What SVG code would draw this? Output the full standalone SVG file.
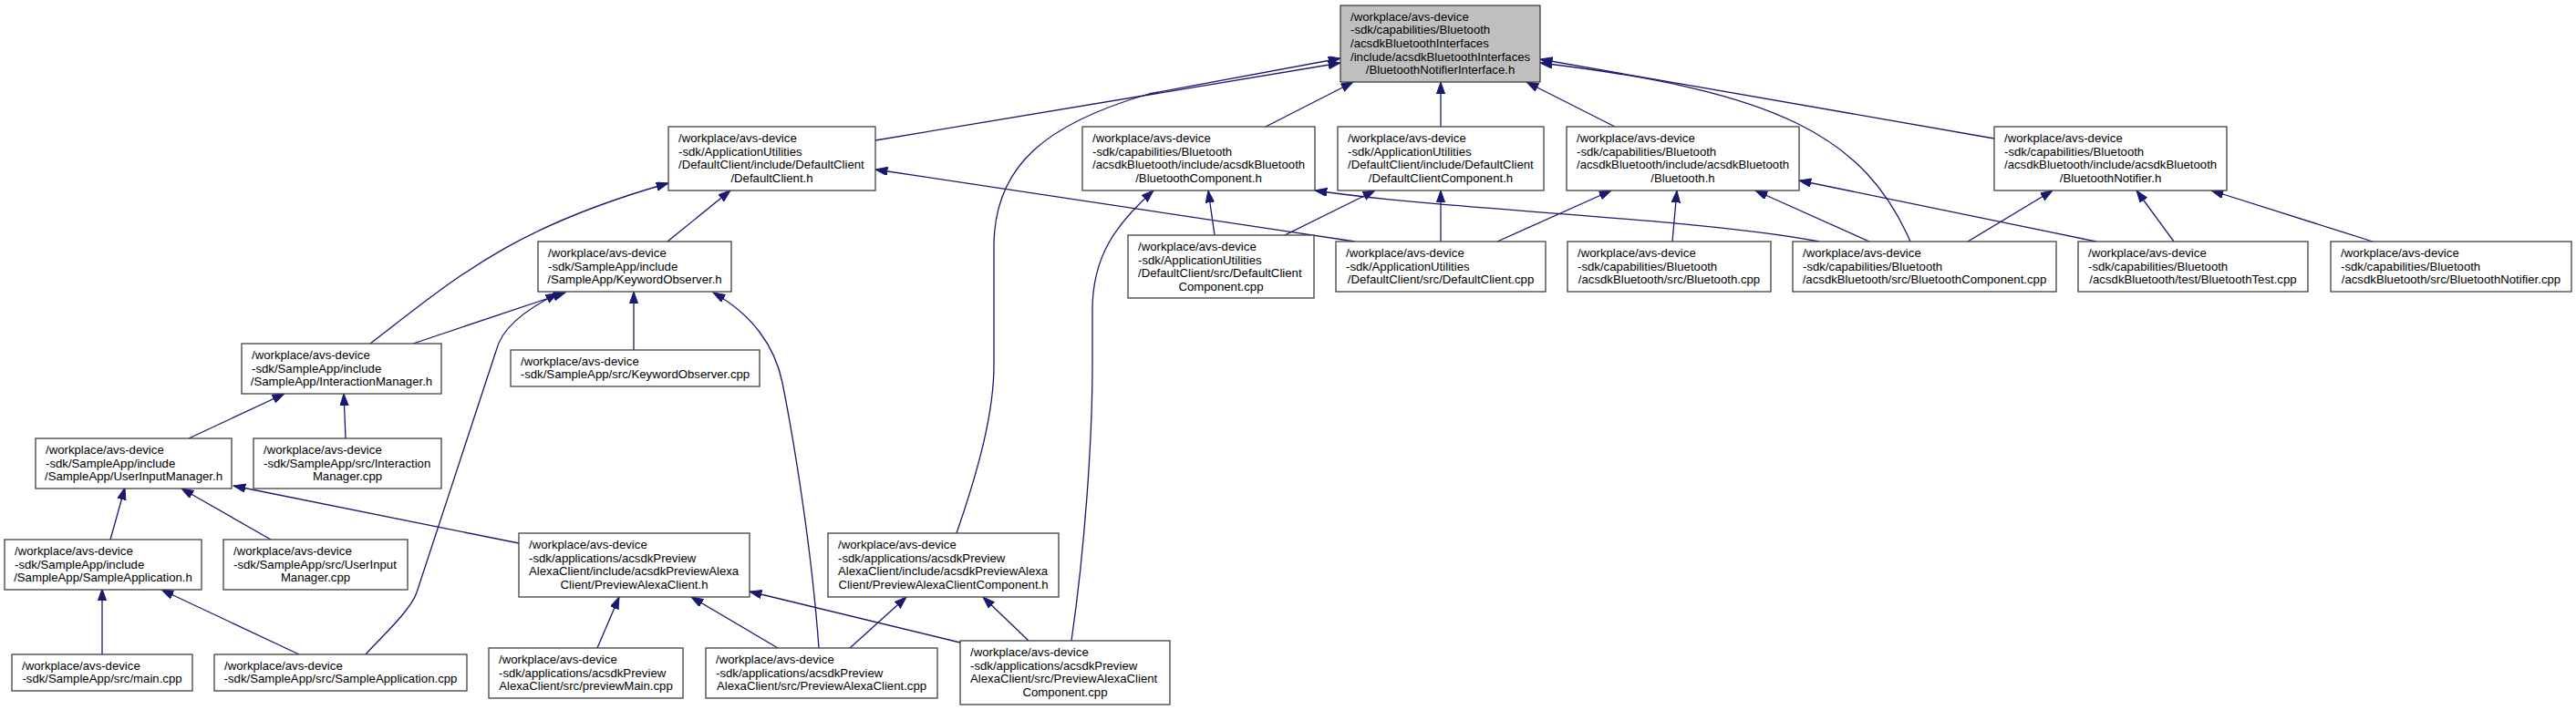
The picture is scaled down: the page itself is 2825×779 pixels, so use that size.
<svg xmlns="http://www.w3.org/2000/svg" width="2825" height="779" viewBox="0 0 2825 779">
<style>
rect.b{fill:#ffffff;stroke:#404040;stroke-width:1.3}
rect.r{fill:#bfbfbf;stroke:#404040;stroke-width:1.3}
text{font-family:"Liberation Sans",Arial,Helvetica,sans-serif;font-size:13.2px;fill:#000}
text.m{text-anchor:middle}
#edges path{fill:none;stroke:#191970;stroke-width:1.3;marker-end:url(#ah)}
</style>
<defs>
<marker id="ah" markerUnits="userSpaceOnUse" markerWidth="15" markerHeight="11" refX="13.3" refY="4.7" orient="auto">
<path d="M0,0 L13.3,4.7 L0,9.4 z" fill="#191970" stroke="#191970" stroke-width="1"/>
</marker>
</defs>
<rect width="2825" height="779" fill="#ffffff"/>
<g id="edges">
<path d="M960,154 L1470,69"/>
<path d="M1049,585 C1075,510 1090,450 1090,400 L1090,270 C1090,180 1150,135 1260,103 L1470,64"/>
<path d="M1388,139 L1484,90"/>
<path d="M1580,139 L1580,90"/>
<path d="M1771,139 L1674,90"/>
<path d="M2095,265 C2045,150 1950,100 1689,69"/>
<path d="M2187,152 L1689,65"/>
<path d="M732,265 L801,209"/>
<path d="M406,377 C500,305 560,250 733,201"/>
<path d="M1486,265 L960,186"/>
<path d="M1332,258 L1325,209"/>
<path d="M1175,703 C1190,600 1198,480 1198,400 L1198,340 C1198,280 1225,245 1265,209"/>
<path d="M1995,265 C1850,238 1600,232 1442,209"/>
<path d="M1409,258 L1508,209"/>
<path d="M1580,265 L1580,209"/>
<path d="M1642,265 L1767,209"/>
<path d="M1834,265 L1839,209"/>
<path d="M2050,265 L1925,209"/>
<path d="M2299,265 L1973,198"/>
<path d="M2158,265 L2251,209"/>
<path d="M2384,265 L2343,209"/>
<path d="M2602,265 L2425,209"/>
<path d="M453,377 L620,321"/>
<path d="M401,718 C420,697 450,670 457,650 L544,385 C550,360 575,340 612,322"/>
<path d="M695,384 L695,320"/>
<path d="M898,711 C890,600 870,480 858,420 C850,380 825,345 782,321"/>
<path d="M207,481 L312,432"/>
<path d="M379,481 L377,432"/>
<path d="M121,592 L137,535"/>
<path d="M297,592 L199,536"/>
<path d="M569,596 L256,533"/>
<path d="M112,718 L112,646"/>
<path d="M328,718 L177,647"/>
<path d="M655,711 L679,655"/>
<path d="M853,711 L758,655"/>
<path d="M1053,705 L822,649"/>
<path d="M932,711 L994,655"/>
<path d="M1128,703 L1078,655"/>
</g>
<g id="n0"><rect class="r" x="1470" y="6" width="219" height="84"/>
<text x="1481" y="22.6">/workplace/avs-device</text><text x="1481" y="37.3">-sdk/capabilities/Bluetooth</text><text x="1481" y="52">/acsdkBluetoothInterfaces</text><text x="1481" y="66.6">/include/acsdkBluetoothInterfaces</text><text class="m" x="1579.5" y="81.3">/BluetoothNotifierInterface.h</text></g>
<g id="n1"><rect class="b" x="733" y="139" width="227" height="70"/>
<text x="744" y="156">/workplace/avs-device</text><text x="744" y="170.7">-sdk/ApplicationUtilities</text><text x="744" y="185.3">/DefaultClient/include/DefaultClient</text><text class="m" x="846.5" y="200">/DefaultClient.h</text></g>
<g id="n2"><rect class="b" x="1187" y="139" width="255" height="70"/>
<text x="1198" y="156">/workplace/avs-device</text><text x="1198" y="170.7">-sdk/capabilities/Bluetooth</text><text x="1198" y="185.3">/acsdkBluetooth/include/acsdkBluetooth</text><text class="m" x="1314.5" y="200">/BluetoothComponent.h</text></g>
<g id="n3"><rect class="b" x="1467" y="139" width="226" height="70"/>
<text x="1478" y="156">/workplace/avs-device</text><text x="1478" y="170.7">-sdk/ApplicationUtilities</text><text x="1478" y="185.3">/DefaultClient/include/DefaultClient</text><text class="m" x="1580" y="200">/DefaultClientComponent.h</text></g>
<g id="n4"><rect class="b" x="1718" y="139" width="255" height="70"/>
<text x="1729" y="156">/workplace/avs-device</text><text x="1729" y="170.7">-sdk/capabilities/Bluetooth</text><text x="1729" y="185.3">/acsdkBluetooth/include/acsdkBluetooth</text><text class="m" x="1845.5" y="200">/Bluetooth.h</text></g>
<g id="n5"><rect class="b" x="2187" y="139" width="255" height="70"/>
<text x="2198" y="156">/workplace/avs-device</text><text x="2198" y="170.7">-sdk/capabilities/Bluetooth</text><text x="2198" y="185.3">/acsdkBluetooth/include/acsdkBluetooth</text><text class="m" x="2314.5" y="200">/BluetoothNotifier.h</text></g>
<g id="n6"><rect class="b" x="590" y="265" width="212" height="55"/>
<text x="601" y="281.8">/workplace/avs-device</text><text x="601" y="296.5">-sdk/SampleApp/include</text><text class="m" x="696" y="311.1">/SampleApp/KeywordObserver.h</text></g>
<g id="n7"><rect class="b" x="1237" y="258" width="204" height="69"/>
<text x="1248" y="275">/workplace/avs-device</text><text x="1248" y="289.7">-sdk/ApplicationUtilities</text><text x="1248" y="304.3">/DefaultClient/src/DefaultClient</text><text class="m" x="1339" y="319">Component.cpp</text></g>
<g id="n8"><rect class="b" x="1465" y="265" width="230" height="55"/>
<text x="1476" y="281.8">/workplace/avs-device</text><text x="1476" y="296.5">-sdk/ApplicationUtilities</text><text class="m" x="1580" y="311.1">/DefaultClient/src/DefaultClient.cpp</text></g>
<g id="n9"><rect class="b" x="1719" y="265" width="223" height="55"/>
<text x="1730" y="281.8">/workplace/avs-device</text><text x="1730" y="296.5">-sdk/capabilities/Bluetooth</text><text class="m" x="1830.5" y="311.1">/acsdkBluetooth/src/Bluetooth.cpp</text></g>
<g id="n10"><rect class="b" x="1966" y="265" width="289" height="55"/>
<text x="1977" y="281.8">/workplace/avs-device</text><text x="1977" y="296.5">-sdk/capabilities/Bluetooth</text><text class="m" x="2110.5" y="311.1">/acsdkBluetooth/src/BluetoothComponent.cpp</text></g>
<g id="n11"><rect class="b" x="2279" y="265" width="252" height="55"/>
<text x="2290" y="281.8">/workplace/avs-device</text><text x="2290" y="296.5">-sdk/capabilities/Bluetooth</text><text class="m" x="2405" y="311.1">/acsdkBluetooth/test/BluetoothTest.cpp</text></g>
<g id="n12"><rect class="b" x="2556" y="265" width="264" height="55"/>
<text x="2567" y="281.8">/workplace/avs-device</text><text x="2567" y="296.5">-sdk/capabilities/Bluetooth</text><text class="m" x="2688" y="311.1">/acsdkBluetooth/src/BluetoothNotifier.cpp</text></g>
<g id="n13"><rect class="b" x="265" y="377" width="219" height="55"/>
<text x="276" y="393.8">/workplace/avs-device</text><text x="276" y="408.5">-sdk/SampleApp/include</text><text class="m" x="374.5" y="423.1">/SampleApp/InteractionManager.h</text></g>
<g id="n14"><rect class="b" x="560" y="384" width="273" height="40"/>
<text x="571" y="400.6">/workplace/avs-device</text><text class="m" x="696.5" y="415.3">-sdk/SampleApp/src/KeywordObserver.cpp</text></g>
<g id="n15"><rect class="b" x="39" y="481" width="215" height="55"/>
<text x="50" y="497.8">/workplace/avs-device</text><text x="50" y="512.5">-sdk/SampleApp/include</text><text class="m" x="146.5" y="527.1">/SampleApp/UserInputManager.h</text></g>
<g id="n16"><rect class="b" x="278" y="481" width="206" height="55"/>
<text x="289" y="497.8">/workplace/avs-device</text><text x="289" y="512.5">-sdk/SampleApp/src/Interaction</text><text class="m" x="381" y="527.1">Manager.cpp</text></g>
<g id="n17"><rect class="b" x="5" y="592" width="216" height="55"/>
<text x="16" y="608.8">/workplace/avs-device</text><text x="16" y="623.5">-sdk/SampleApp/include</text><text class="m" x="113" y="638.1">/SampleApp/SampleApplication.h</text></g>
<g id="n18"><rect class="b" x="245" y="592" width="202" height="55"/>
<text x="256" y="608.8">/workplace/avs-device</text><text x="256" y="623.5">-sdk/SampleApp/src/UserInput</text><text class="m" x="346" y="638.1">Manager.cpp</text></g>
<g id="n19"><rect class="b" x="569" y="585" width="253" height="70"/>
<text x="580" y="602">/workplace/avs-device</text><text x="580" y="616.7">-sdk/applications/acsdkPreview</text><text x="580" y="631.3">AlexaClient/include/acsdkPreviewAlexa</text><text class="m" x="695.5" y="646">Client/PreviewAlexaClient.h</text></g>
<g id="n20"><rect class="b" x="908" y="585" width="253" height="70"/>
<text x="919" y="602">/workplace/avs-device</text><text x="919" y="616.7">-sdk/applications/acsdkPreview</text><text x="919" y="631.3">AlexaClient/include/acsdkPreviewAlexa</text><text class="m" x="1034.5" y="646">Client/PreviewAlexaClientComponent.h</text></g>
<g id="n21"><rect class="b" x="13" y="718" width="198" height="40"/>
<text x="24" y="734.6">/workplace/avs-device</text><text class="m" x="112" y="749.3">-sdk/SampleApp/src/main.cpp</text></g>
<g id="n22"><rect class="b" x="235" y="718" width="277" height="40"/>
<text x="246" y="734.6">/workplace/avs-device</text><text class="m" x="373.5" y="749.3">-sdk/SampleApp/src/SampleApplication.cpp</text></g>
<g id="n23"><rect class="b" x="536" y="711" width="213" height="55"/>
<text x="547" y="727.8">/workplace/avs-device</text><text x="547" y="742.5">-sdk/applications/acsdkPreview</text><text class="m" x="642.5" y="757.1">AlexaClient/src/previewMain.cpp</text></g>
<g id="n24"><rect class="b" x="774" y="711" width="254" height="55"/>
<text x="785" y="727.8">/workplace/avs-device</text><text x="785" y="742.5">-sdk/applications/acsdkPreview</text><text class="m" x="901" y="757.1">AlexaClient/src/PreviewAlexaClient.cpp</text></g>
<g id="n25"><rect class="b" x="1053" y="703" width="230" height="70"/>
<text x="1064" y="720">/workplace/avs-device</text><text x="1064" y="734.7">-sdk/applications/acsdkPreview</text><text x="1064" y="749.3">AlexaClient/src/PreviewAlexaClient</text><text class="m" x="1168" y="764">Component.cpp</text></g>
</svg>
